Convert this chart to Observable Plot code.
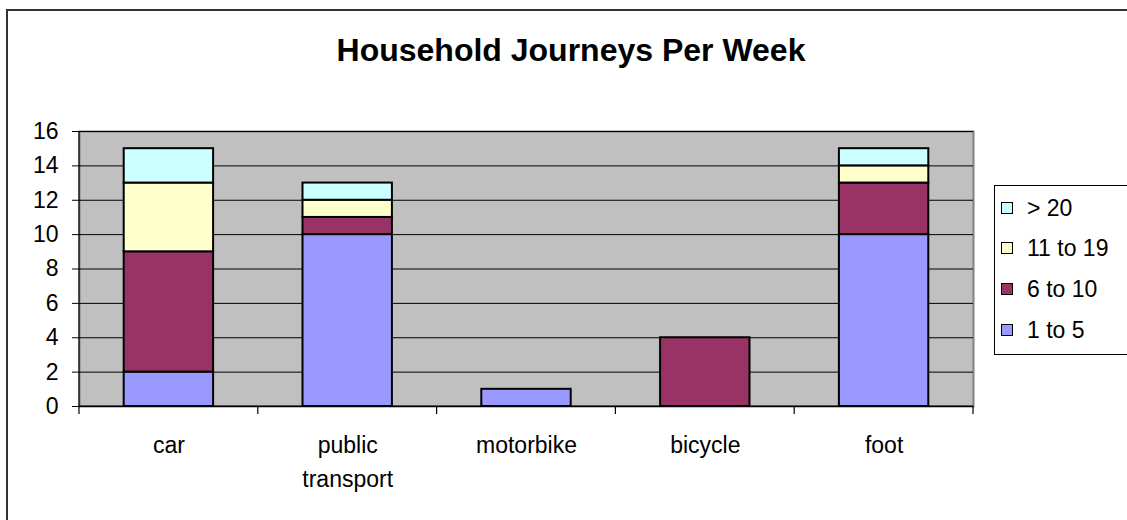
<!DOCTYPE html>
<html>
<head>
<meta charset="utf-8">
<script src="https://cdn.jsdelivr.net/npm/d3@7"></script>
<script src="https://cdn.jsdelivr.net/npm/@observablehq/plot@0.6"></script>
<style>
  body { margin: 0; background: #fff; overflow: hidden; font-family: Arial, "Liberation Sans", sans-serif; }
  #wrap { position: relative; width: 1127px; height: 520px; overflow: hidden; }
  #frame { position: absolute; left: 6px; top: 9px; width: 1200px; height: 600px; border: 2px solid #333; }
  #chart { position: absolute; left: 0; top: 0; }
  #title { position: absolute; left: 0; top: 34px; width: 1142px; text-align: center; font-size: 32px; font-weight: bold; line-height: 32px; color: #000; }
  #legend { position: absolute; left: 994px; top: 185px; width: 200px; height: 168px; border: 1px solid #000; background: #fff; }
  .lrow { position: absolute; left: 0; width: 200px; height: 0; }
  .sw { position: absolute; left: 6px; width: 10px; height: 10px; border: 1px solid #000; top: -6px; }
  .lt { position: absolute; left: 32px; top: -11px; font-size: 23px; line-height: 23px; white-space: nowrap; color: #000; }
</style>
</head>
<body>
<div id="wrap">
  <div id="frame"></div>
  <div id="chart"></div>
  <div id="title">Household Journeys Per Week</div>
  <div id="legend"></div>
</div>
<script>
const categories = ["car", "public transport", "motorbike", "bicycle", "foot"];
const seriesNames = ["1 to 5", "6 to 10", "11 to 19", "> 20"];
const seriesColors = ["#9999FF", "#993366", "#FFFFCC", "#CCFFFF"];
const v1to5   = [2, 10, 1, 0, 10];
const v6to10  = [7, 1, 0, 4, 3];
const v11to19 = [4, 1, 0, 0, 1];
const vOver20 = [2, 1, 0, 0, 1];
const yTicks = [0, 2, 4, 6, 8, 10, 12, 14, 16];

const seriesValues = [v1to5, v6to10, v11to19, vOver20];
const rows = [];
categories.forEach((c, i) => {
  seriesNames.forEach((s, j) => {
    const v = seriesValues[j][i];
    if (v > 0) rows.push({category: c, series: s, value: v});
  });
});

const chart = Plot.plot({
  width: 1127,
  height: 520,
  marginLeft: 79,
  marginRight: 154,
  marginTop: 131,
  marginBottom: 114,
  style: { fontFamily: "Arial, 'Liberation Sans', sans-serif", fontSize: "23px", color: "#000", background: "transparent", overflow: "visible" },
  x: { domain: categories, paddingInner: 0.5, paddingOuter: 0.25, round: false, label: null },
  y: { domain: [0, 16], label: null },
  color: { domain: seriesNames, range: seriesColors },
  marks: [
    Plot.frame({ fill: "#C0C0C0", stroke: "#808080", strokeWidth: 2 }),
    Plot.gridY(yTicks, { stroke: "#000", strokeOpacity: 1, strokeWidth: 1 }),
    Plot.barY(rows, Plot.stackY({ x: "category", y: "value", fill: "series", stroke: "#000", strokeWidth: 2, order: seriesNames })),
    Plot.axisY({ ticks: yTicks, tickSize: 7, tickPadding: 14, stroke: "#000", strokeOpacity: 1, label: null, fill: "#000" }),
    Plot.axisX({ tickSize: 0, tickPadding: 23, tickFormat: d => d.replace(" ", "\n"), lineHeight: 1.45, label: null, fill: "#000" })
  ]
});
document.getElementById("chart").appendChild(chart);

// axis lines and category boundary ticks from the plot's own scales
const xs = chart.scale("x");
const ys = chart.scale("y");
const svg = d3.select(chart);
const y0 = ys.apply(0), yTop = ys.apply(16);
const xLeft = xs.range[0], xRight = xs.range[1];
const g = svg.append("g").attr("stroke", "#000").attr("stroke-width", 1.2);
g.append("line").attr("x1", xLeft).attr("x2", xLeft).attr("y1", yTop).attr("y2", y0);
g.append("line").attr("x1", xLeft).attr("x2", xRight).attr("y1", y0).attr("y2", y0);
const bounds = categories.map(c => xs.apply(c) + xs.bandwidth / 2 - xs.step / 2);
bounds.push(xs.apply(categories[categories.length - 1]) + xs.bandwidth / 2 + xs.step / 2);
bounds.forEach(b => g.append("line").attr("x1", b).attr("x2", b).attr("y1", y0).attr("y2", y0 + 8));

// legend
const legend = document.getElementById("legend");
const order = seriesNames.slice().reverse();
order.forEach((s, k) => {
  const row = document.createElement("div");
  row.className = "lrow";
  row.style.top = (21.5 + k * 40.7) + "px";
  const sw = document.createElement("div");
  sw.className = "sw";
  sw.style.background = seriesColors[seriesNames.indexOf(s)];
  const t = document.createElement("div");
  t.className = "lt";
  t.textContent = s;
  row.appendChild(sw);
  row.appendChild(t);
  legend.appendChild(row);
});
</script>
</body>
</html>
